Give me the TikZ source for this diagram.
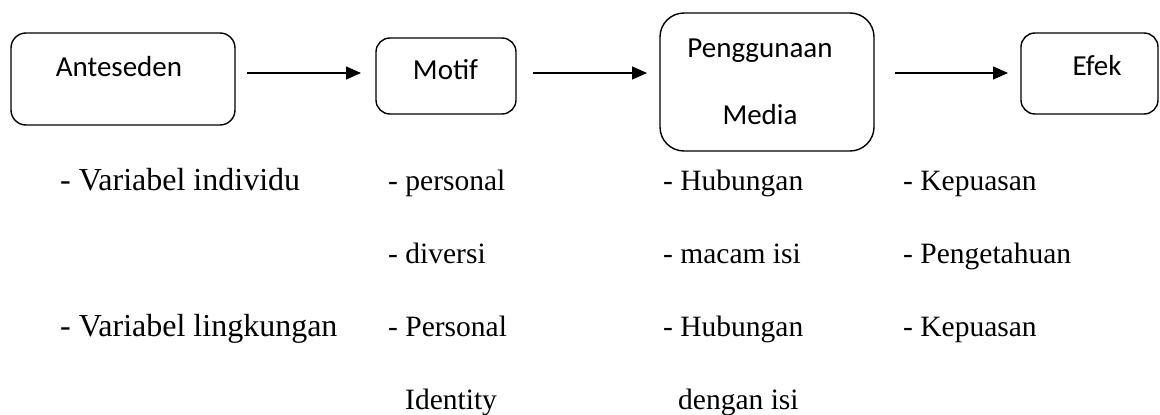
\documentclass[tikz,border=0pt]{standalone}
\usepackage{fontspec}
\setmainfont{Liberation Serif}
\newfontfamily\boxfont{Carlito}
\usetikzlibrary{arrows.meta}
\begin{document}
\begin{tikzpicture}[x=1pt,y=-1pt,
  stagebox/.style={draw,line width=1.4pt,inner sep=0pt,outer sep=0pt},
  boxtext/.style={anchor=base,inner sep=0pt,font=\boxfont\fontsize{29}{34}\selectfont},
  item/.style={anchor=base west,inner sep=0pt,font=\fontsize{29.5}{35}\selectfont},
  bigitem/.style={item,font=\fontsize{32}{38}\selectfont},
  arr/.style={line width=1.4pt,-{Triangle[length=15pt,width=13pt]}}]
\useasboundingbox (0,0) rectangle (1160,415);
% boxes
\node[stagebox,rounded corners=15pt,minimum width=224pt,minimum height=92pt] (b1) at (123,79) {};
\node[stagebox,rounded corners=14pt,minimum width=140pt,minimum height=76pt] (b2) at (446,76) {};
\node[stagebox,rounded corners=24pt,minimum width=214pt,minimum height=138pt] (b3) at (767,82) {};
\node[stagebox,rounded corners=14pt,minimum width=137pt,minimum height=81pt] (b4) at (1089.5,73.5) {};
% box texts
\node[boxtext] (t1) at (119,76) {Anteseden};
\node[boxtext] (t2) at (445.5,79) {Motif};
\node[boxtext] (t3a) at (760,57) {Penggunaan};
\node[boxtext] (t3b) at (760,124) {Media};
\node[boxtext] (t4) at (1097,75) {Efek};
% arrows
\coordinate (arow) at (0,73);
\draw[arr] ([xshift=12pt]b1.east |- arow) -- ([xshift=-15pt]b2.west |- arow);
\draw[arr] ([xshift=17pt]b2.east |- arow) -- ([xshift=-13pt]b3.west |- arow);
\draw[arr] ([xshift=21pt]b3.east |- arow) -- ([xshift=-13pt]b4.west |- arow);
% lists
\node[bigitem] (l11) at (60,190) {- Variabel individu};
\node[bigitem] (l12) at (60,336) {- Variabel lingkungan};
\node[item] (l21) at (388,190) {- personal};
\node[item] (l22) at (388,263) {- diversi};
\node[item] (l23) at (388,336) {- Personal};
\node[item] (l24) at (405,409) {Identity};
\node[item] (l31) at (663,190) {- Hubungan};
\node[item] (l32) at (663,263) {- macam isi};
\node[item] (l33) at (663,336) {- Hubungan};
\node[item] (l34) at (678,409) {dengan isi};
\node[item] (l41) at (903,190) {- Kepuasan};
\node[item] (l42) at (903,263) {- Pengetahuan};
\node[item] (l43) at (903,336) {- Kepuasan};
\end{tikzpicture}
\end{document}
